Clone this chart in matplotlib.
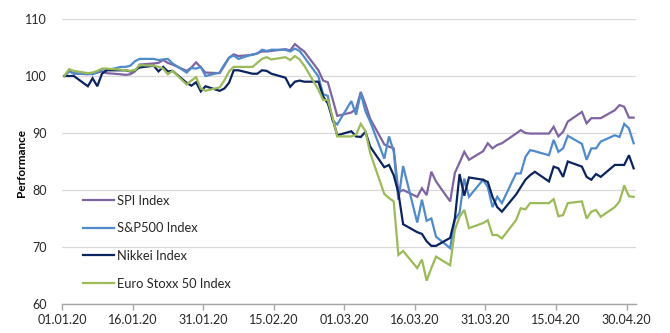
import matplotlib
matplotlib.use("Agg")
import matplotlib.pyplot as plt
import matplotlib.dates as mdates
import pandas as pd
import numpy as np

plt.rcParams['font.family'] = ['Lato', 'DejaVu Sans']

dates = pd.bdate_range('2020-01-01', '2020-05-01')

spi = [100.0, 100.8, 100.5, 100.3, 100.5, 100.6, 100.8, 100.5, 100.3, 100.2, 100.3, 100.8, 102.0, 102.2, 102.3, 102.8, 102.3, 102.0, 100.9, 101.5, 102.4, 101.5, 100.6,
       100.5, 101.8, 103.2, 103.8, 103.5, 103.7, 104.0, 104.3, 104.3, 104.4, 104.7, 104.5, 105.6, 104.9, 104.3, 101.0, 99.2, 98.9, 96.0, 93.0,
       93.6, 94.3, 97.2, 95.0, 92.5, 88.0, 87.6, 87.3, 79.6, 80.0, 78.8, 80.3, 79.1, 83.2, 81.5, 78.0, 83.0, 84.8, 86.7, 85.3, 86.8, 88.2,
       87.3, 87.9, 88.2, 89.9, 90.5, 90.0, 89.9, 89.9, 89.9, 91.1, 89.4, 90.2, 92.0, 93.7, 91.7, 92.6, 92.6, 92.6, 94.0, 94.9, 94.6, 92.7,
       92.7]
sp500 = [100.0, 100.9, 100.4, 100.4, 100.3, 100.6, 101.2, 101.0, 101.6, 101.6, 101.8, 102.6, 103.0, 103.0, 102.8, 102.9, 103.0, 102.2, 100.6, 101.4, 101.3, 101.6, 100.0,
         100.6, 102.0, 103.2, 103.6, 103.0, 103.8, 103.9, 104.6, 104.4, 104.6, 104.6, 104.3, 104.8, 104.4, 103.3, 99.9, 96.8, 96.5, 92.2, 91.5,
         95.6, 93.2, 97.0, 93.8, 92.0, 85.5, 89.4, 86.8, 78.3, 84.2, 74.3, 78.3, 74.6, 75.0, 71.8, 69.8, 74.8, 76.0, 82.0, 78.8, 81.8, 80.5,
         77.0, 78.8, 77.7, 82.9, 82.9, 85.8, 87.0, 86.8, 86.1, 88.8, 86.7, 87.3, 89.5, 88.1, 85.3, 87.3, 87.3, 88.5, 89.6, 89.3, 91.6, 90.8,
         88.2]
nikkei = [100.0, 100.0, 100.0, 98.2, 99.6, 98.2, 100.4, 101.0, 101.0, 101.0, 100.8, 101.0, 101.5, 101.8, 100.8, 101.6, 100.8, 100.9, 98.8, 98.3, 98.9, 97.3, 98.2,
          97.4, 97.8, 98.8, 101.0, 101.0, 100.4, 100.4, 101.0, 100.9, 100.4, 99.7, 98.1, 99.0, 99.2, 99.0, 99.0, 96.4, 95.2, 92.5, 89.6,
          90.3, 89.4, 89.3, 90.2, 87.6, 84.0, 84.4, 82.6, 79.5, 74.0, 72.6, 72.3, 71.0, 70.2, 70.2, 71.6, 75.0, 82.8, 79.0, 82.2, 81.8, 81.4,
          78.8, 77.0, 76.2, 79.2, 80.5, 81.8, 82.6, 83.2, 81.5, 84.1, 83.8, 82.3, 85.0, 84.1, 82.3, 81.8, 82.8, 82.3, 84.4, 84.4, 84.4, 86.1,
          83.8]
eurostoxx = [100.0, 101.2, 100.9, 100.5, 100.6, 100.9, 101.3, 101.3, 101.1, 101.0, 100.9, 101.0, 101.9, 101.8, 101.6, 101.3, 100.3, 100.9, 98.5, 99.2, 99.8, 97.8, 97.4,
             98.0, 99.2, 100.8, 101.6, 101.6, 101.6, 102.3, 103.0, 103.3, 102.9, 103.3, 102.8, 103.5, 102.9, 101.8, 97.6, 95.8, 95.8, 92.8, 89.4,
             89.4, 89.7, 91.6, 90.3, 86.5, 79.3, 78.6, 78.0, 68.6, 69.3, 66.3, 67.8, 64.1, 66.3, 68.3, 66.8, 73.0, 75.3, 76.5, 73.3, 74.2, 74.7,
             72.1, 72.1, 71.5, 74.7, 76.8, 76.6, 77.7, 77.7, 77.7, 78.4, 75.4, 75.6, 77.7, 78.0, 75.0, 76.2, 76.5, 75.3, 77.0, 78.0, 80.8, 78.9,
             78.8]

series_names = ['SPI Index', 'S&P500 Index', 'Nikkei Index', 'Euro Stoxx 50 Index']
series_colors = ['#8064A2', '#4F8BCB', '#0B2460', '#9BBB59']
tick_dates = ['01.01.20', '16.01.20', '31.01.20', '15.02.20', '01.03.20',
              '16.03.20', '31.03.20', '15.04.20', '30.04.20']
y_ticks = [60, 70, 80, 90, 100, 110]

fig = plt.figure(figsize=(6.7, 3.33), dpi=100)
ax = fig.add_axes([62/670, 1-304/333, (636-62)/670, (304-19)/333])

x = mdates.date2num(dates) + 0.5
for vals, name, col in zip([spi, sp500, nikkei, eurostoxx], series_names, series_colors):
    ax.plot(x, vals, color=col, lw=1.6, label=name, solid_joinstyle='miter')

ax.set_ylim(60, 110)
ax.set_yticks(y_ticks)
ax.set_xlim(mdates.date2num(pd.Timestamp('2020-01-01')), mdates.date2num(pd.Timestamp('2020-05-02')))
tpos = mdates.date2num(pd.to_datetime(tick_dates, format='%d.%m.%y'))
ax.set_xticks(tpos)
ax.set_xticklabels(tick_dates)

ax.grid(axis='y', color='#d9d9d9', lw=0.9)
ax.set_axisbelow(True)
for s in ['left', 'right', 'top']:
    ax.spines[s].set_visible(False)
ax.spines['bottom'].set_color('#a6a6a6')
ax.spines['bottom'].set_linewidth(1.0)
ax.tick_params(axis='y', length=0, pad=11, labelsize=9, labelcolor='#262626')
ax.tick_params(axis='x', length=4, width=1.0, color='#a6a6a6', pad=3, labelsize=9, labelcolor='#262626')

fig.text(22/670, 1-163/333, 'Performance', rotation=90, ha='center', va='center',
         fontsize=8.5, fontweight='bold', color='#000000')

leg = ax.legend(loc='upper left', bbox_to_anchor=(83/670, 1-195/333), bbox_transform=fig.transFigure,
                frameon=False, fontsize=9.3, handlelength=2.4, handletextpad=0.25,
                labelspacing=1.2, borderpad=0, borderaxespad=0)
for t in leg.get_texts():
    t.set_color('#262626')

fig.savefig('out.png', dpi=100)
